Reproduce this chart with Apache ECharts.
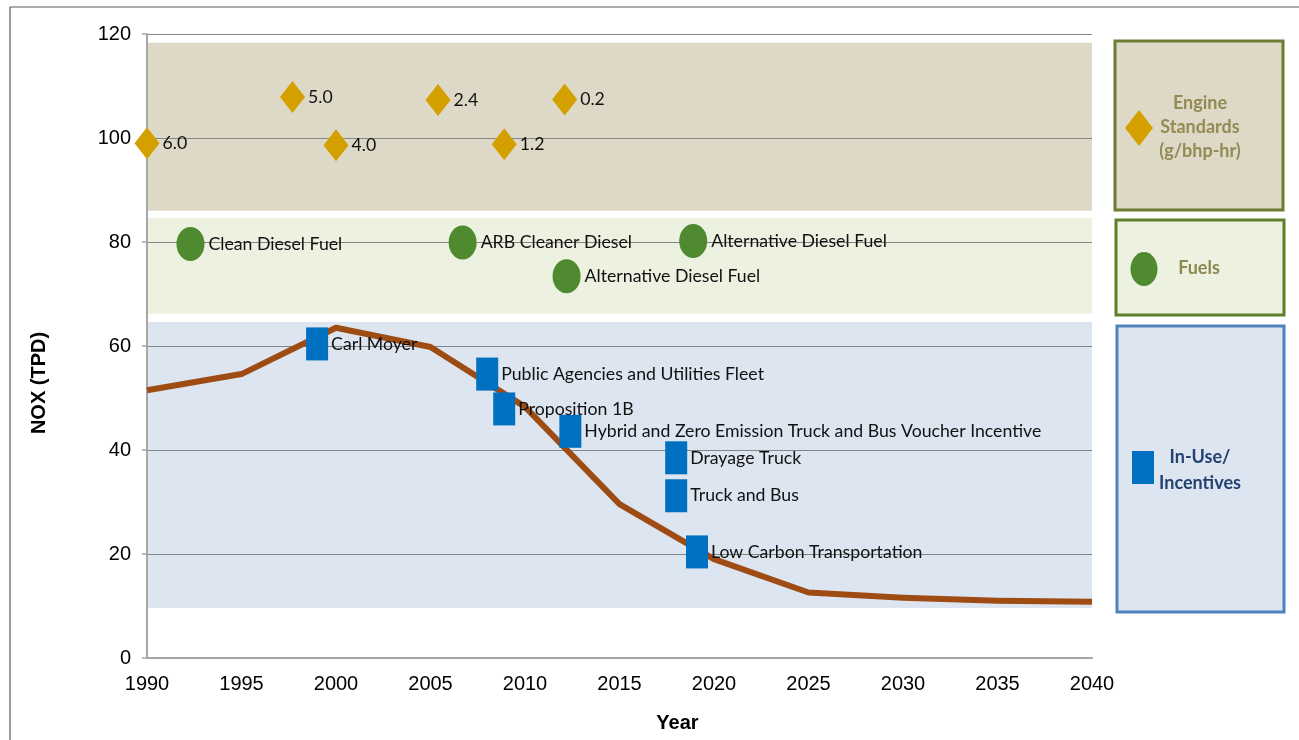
<!DOCTYPE html>
<html>
<head>
<meta charset="utf-8">
<script src="https://cdn.jsdelivr.net/npm/echarts@6/dist/echarts.min.js"></script>
<style>
html,body{margin:0;padding:0;background:#fff;}
#chart{width:1299px;height:740px;}
</style>
</head>
<body>
<div id="chart"></div>
<script>
// ---- data ----
const xTicks = [1990, 1995, 2000, 2005, 2010, 2015, 2020, 2025, 2030, 2035, 2040];
const noxYears = [1990, 1995, 2000, 2005, 2010, 2015, 2020, 2025, 2030, 2035, 2040];
const noxValues = [51.5, 54.6, 63.5, 59.8, 48.3, 29.6, 19.0, 12.6, 11.6, 11.0, 10.8];

const engineYears = [1990, 1997.7, 2000, 2005.4, 2008.9, 2012.1];
const engineValues = [99.0, 107.9, 98.6, 107.3, 98.8, 107.4];
const engineLabels = ['6.0', '5.0', '4.0', '2.4', '1.2', '0.2'];

const fuelYears = [1992.3, 2006.7, 2012.2, 2018.9];
const fuelValues = [79.6, 79.9, 73.4, 80.2];
const fuelLabels = ['Clean Diesel Fuel', 'ARB Cleaner Diesel', 'Alternative Diesel Fuel', 'Alternative Diesel Fuel'];

const incentiveYears = [1999.0, 2008.0, 2008.9, 2012.4, 2018.0, 2018.0, 2019.1];
const incentiveValues = [60.4, 54.6, 47.9, 43.6, 38.5, 31.2, 20.4];
const incentiveLabels = ['Carl Moyer', 'Public Agencies and Utilities Fleet', 'Proposition 1B',
  'Hybrid and Zero Emission Truck and Bus Voucher Incentive', 'Drayage Truck', 'Truck and Bus',
  'Low Carbon Transportation'];

// category bands [low, high] in NOx units
const bandEngine = [86.0, 118.3];
const bandFuels = [66.2, 84.6];
const bandInUse = [9.6, 64.6];

const legendNames = ['Engine\nStandards\n(g/bhp-hr)', 'Fuels', 'In-Use/\nIncentives'];

// ---- styles ----
const GOLD = '#D4A000', GREEN = '#4F8A30', BLUE = '#0070C0', BROWN = '#9E4C14';
const LABEL_FONT = 'Lato, "Open Sans", sans-serif';
const AXIS_FONT = '"Liberation Sans", Arial, sans-serif';
const ELLIPSE = 'path://M50,0 A50,50 0 1,1 50,100 A50,50 0 1,1 50,0 Z';

function pts(xs, ys, names) {
  return xs.map((x, i) => ({ value: [x, ys[i]], name: names ? names[i] : '' }));
}
const labelStyle = {
  show: true, position: 'right', distance: 3, formatter: '{b}',
  color: '#111111', fontFamily: LABEL_FONT, fontSize: 17.7
};

const chart = echarts.init(document.getElementById('chart'), null, { renderer: 'canvas' });
const option = {
  backgroundColor: '#ffffff',
  animation: false,
  grid: { left: 147, right: 207, top: 34, bottom: 82, containLabel: false },
  xAxis: {
    type: 'value', min: 1990, max: 2040, interval: 5, z: 2,
    name: 'Year', nameLocation: 'middle', nameGap: 55,
    nameTextStyle: { fontFamily: AXIS_FONT, fontWeight: 'bold', fontSize: 20, color: '#000', padding: [0, 0, 0, 116] },
    axisLine: { show: true, lineStyle: { color: '#A6A6A6', width: 2 } },
    axisTick: { show: false },
    splitLine: { show: false },
    axisLabel: { margin: 16, fontFamily: AXIS_FONT, fontSize: 20, color: '#000', formatter: v => String(v) }
  },
  yAxis: {
    type: 'value', min: 0, max: 120, interval: 20, z: 2,
    name: 'NOX (TPD)', nameLocation: 'middle', nameRotate: 90, nameGap: 98,
    nameTextStyle: { fontFamily: AXIS_FONT, fontWeight: 'bold', fontSize: 20, color: '#000', padding: [0, 74, 0, 0] },
    axisLine: { show: true, lineStyle: { color: '#A6A6A6', width: 2 } },
    axisTick: { show: true, length: 5, lineStyle: { color: '#A6A6A6', width: 1.5 } },
    splitLine: { show: true, lineStyle: { color: '#858585', width: 1.2 } },
    axisLabel: { margin: 16, fontFamily: AXIS_FONT, fontSize: 20, color: '#000' }
  },
  series: [
    {
      name: 'bands', type: 'line', data: [], z: 0, silent: true,
      markArea: {
        silent: true, z: 0,
        label: { show: false },
        itemStyle: { opacity: 1 },
        data: [
          [{ xAxis: 1990, yAxis: bandEngine[0], itemStyle: { color: '#DED9C6', opacity: 1 } }, { xAxis: 2040, yAxis: bandEngine[1] }],
          [{ xAxis: 1990, yAxis: bandFuels[0], itemStyle: { color: '#ECF1E0', opacity: 1 } }, { xAxis: 2040, yAxis: bandFuels[1] }],
          [{ xAxis: 1990, yAxis: bandInUse[0], itemStyle: { color: '#DCE5F0', opacity: 1 } }, { xAxis: 2040, yAxis: bandInUse[1] }]
        ]
      }
    },
    {
      name: 'NOx', type: 'line', z: 3, symbol: 'none', silent: true,
      data: noxYears.map((y, i) => [y, noxValues[i]]),
      lineStyle: { color: BROWN, width: 6, join: 'round' }
    },
    {
      name: 'Engine Standards', type: 'scatter', z: 5, clip: false,
      symbol: 'diamond', symbolSize: [25, 32],
      itemStyle: { color: GOLD, opacity: 1 },
      label: labelStyle,
      data: pts(engineYears, engineValues, engineLabels)
    },
    {
      name: 'Fuels', type: 'scatter', z: 5, clip: false,
      symbol: ELLIPSE, symbolSize: [28, 34],
      itemStyle: { color: GREEN, opacity: 1 },
      label: Object.assign({}, labelStyle, { distance: 4 }),
      data: pts(fuelYears, fuelValues, fuelLabels)
    },
    {
      name: 'In-Use/Incentives', type: 'scatter', z: 6, clip: false,
      symbol: 'rect', symbolSize: [22, 33],
      itemStyle: { color: BLUE, opacity: 1 },
      label: labelStyle,
      data: pts(incentiveYears, incentiveValues, incentiveLabels)
    }
  ],
  graphic: [
    // outer frame
    { type: 'rect', shape: { x: 10, y: 7, width: 1400, height: 900 }, silent: true,
      style: { fill: 'none', stroke: '#5a5a5a', lineWidth: 1.2 }, z: 100 },
    // legend box 1
    { type: 'rect', shape: { x: 1115, y: 41, width: 168, height: 169 },
      style: { fill: '#DED9C6', stroke: '#6E7B30', lineWidth: 3 } },
    { type: 'polygon', shape: { points: [[1139, 110], [1153, 128], [1139, 146], [1125, 128]] }, style: { fill: GOLD } },
    { type: 'text', x: 1200, y: 127,
      style: { text: legendNames[0], align: 'center', verticalAlign: 'middle', lineHeight: 24,
        font: 'bold 18px Lato, sans-serif', fill: '#948A54' } },
    // legend box 2
    { type: 'rect', shape: { x: 1116, y: 220, width: 168, height: 95 },
      style: { fill: '#ECF1E0', stroke: '#5F7F2B', lineWidth: 3 } },
    { type: 'ellipse', shape: { cx: 1144, cy: 269, rx: 13.5, ry: 17 }, style: { fill: GREEN } },
    { type: 'text', x: 1199, y: 268,
      style: { text: legendNames[1], align: 'center', verticalAlign: 'middle',
        font: 'bold 18px Lato, sans-serif', fill: '#8C8A50' } },
    // legend box 3
    { type: 'rect', shape: { x: 1117, y: 326, width: 167, height: 286 },
      style: { fill: '#DCE5F0', stroke: '#4F81BD', lineWidth: 3 } },
    { type: 'rect', shape: { x: 1132, y: 451, width: 22, height: 33 }, style: { fill: BLUE } },
    { type: 'text', x: 1200, y: 470,
      style: { text: legendNames[2], align: 'center', verticalAlign: 'middle', lineHeight: 26,
        font: 'bold 18px Lato, sans-serif', fill: '#24416F' } }
  ]
};
chart.setOption(option);
</script>
</body>
</html>
